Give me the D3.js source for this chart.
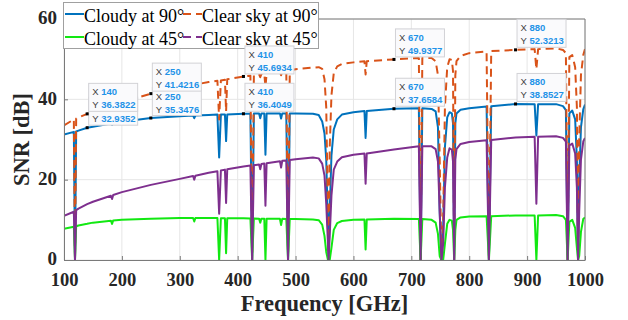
<!DOCTYPE html>
<html>
<head>
<meta charset="utf-8">
<script src="https://cdn.jsdelivr.net/npm/d3@7"></script>
<style>
  html, body { margin: 0; padding: 0; background: #fff; }
  svg { display: block; }
</style>
</head>
<body>
<div id="chart"></div>
<script>
// frequency grid [GHz], shared by all four curves (rows of 8)
const freq = [
  100, 117, 119, 121, 125, 140, 150, 181,
  183, 185, 200, 250, 300, 323, 325, 327,
  350, 365, 368, 371, 378, 380, 382, 410,
  422, 425, 428, 437, 439, 441, 446, 448,
  450, 473, 475, 477, 484, 487, 490, 500,
  530, 540, 546, 550, 553, 556, 557, 559,
  562, 566, 572, 580, 600, 619, 621, 623,
  670, 713, 716, 719, 735, 742, 746, 749,
  752, 755, 758, 762, 766, 770, 772, 774,
  776, 778, 785, 800, 830, 834, 838, 880,
  913, 916, 919, 950, 962, 967, 970, 973,
  978, 983, 986, 988, 990, 993, 997, 1000
];

// SNR [dB]
const cloudy90 = [
  31.25, 31.9, 0, 32.0, 32.2, 32.94, 33.2, 34.0,
  33.6, 34.1, 34.4, 35.35, 35.8, 35.95, 35.3, 35.95,
  36.1, 36.2, 25.5, 36.2, 36.25, 29.6, 36.25, 36.4,
  36.4, 0, 36.45, 36.45, 35.3, 36.45, 36.45, 26.2,
  36.5, 36.5, 35.2, 36.5, 36.5, 0, 36.5, 36.5,
  36.4, 36.1, 34.5, 31.5, 25, 8, 0, 12,
  26, 32.5, 35, 36.2, 36.8, 37.1, 30.4, 37.1,
  37.66, 37.8, 0, 37.8, 37.6, 37.0, 33, 12,
  0, 8, 28, 35.5, 36.8, 36.5, 34, 0,
  34, 36.5, 37.4, 37.8, 38.2, 0, 38.3, 38.85,
  38.8, 31, 38.8, 38.8, 38.3, 37.3, 0, 36.5,
  37.2, 35, 25, 0, 20, 33, 37.5, 38.7
];

const clearSky90 = [
  33.5, 35.0, 0, 35.2, 35.5, 36.38, 37.0, 38.5,
  38.2, 38.7, 39.3, 41.42, 43.0, 43.6, 43.0, 43.7,
  44.3, 44.6, 35, 44.7, 44.9, 37, 45.0, 45.69,
  45.9, 0, 46.0, 46.2, 45.5, 46.3, 46.4, 43,
  46.5, 46.9, 46.0, 47.0, 47.1, 0, 47.2, 47.5,
  47.9, 48.0, 47.6, 45, 38, 10, 0, 28,
  41, 46.5, 48.2, 48.8, 49.2, 49.5, 46.2, 49.5,
  49.94, 50.3, 0, 50.3, 50.3, 49.5, 46, 25,
  0, 10, 38, 48, 50, 49.8, 47, 0,
  46, 49.5, 50.8, 51.5, 51.9, 0, 52.0, 52.32,
  52.5, 47.5, 52.5, 52.7, 52.3, 51.5, 0, 50.5,
  51, 48, 38, 0, 30, 46, 51, 52.5
];

const cloudy45 = [
  7.75, 8.3, 0, 8.4, 8.6, 9.0, 9.3, 9.8,
  9.0, 9.85, 10.0, 10.3, 10.45, 10.45, 9.6, 10.45,
  10.45, 10.45, 0, 10.4, 10.4, 1.7, 10.4, 10.4,
  10.35, 0, 10.35, 10.3, 9.3, 10.3, 10.3, 0,
  10.3, 10.25, 8.7, 10.25, 10.2, 0, 10.2, 10.2,
  10.1, 9.9, 8.8, 6, 2, 0, 0, 0,
  3, 7.5, 9.2, 9.7, 10.0, 10.1, 2.6, 10.1,
  10.25, 10.2, 0, 10.2, 10.0, 9.3, 6.5, 1,
  0, 0, 4, 9, 10.0, 9.8, 7.5, 0,
  7.5, 10.0, 10.6, 10.8, 10.9, 0, 10.9, 11.1,
  11.1, 0, 11.1, 11.2, 10.9, 10.0, 0, 9.5,
  10.0, 8, 3, 0, 1, 7, 10.2, 10.6
];

const clearSky45 = [
  11.0, 12.0, 0, 12.4, 12.8, 13.9, 14.5, 16.0,
  15.2, 16.2, 16.9, 18.7, 20.2, 20.9, 20.0, 21.0,
  21.7, 22.1, 11.5, 22.3, 22.5, 14.2, 22.6, 23.3,
  23.5, 0, 23.6, 23.8, 22.6, 23.9, 24.0, 13.5,
  24.1, 24.6, 23.0, 24.7, 24.8, 0, 24.9, 25.1,
  25.5, 25.3, 24.0, 21, 14, 4, 0, 6,
  16, 22.5, 24.5, 25.6, 26.2, 26.5, 19.0, 26.5,
  27.5, 28.3, 0, 28.3, 28.3, 27.6, 24.5, 12,
  0, 4, 18, 25.5, 27.8, 27.5, 24.5, 0,
  25, 27.6, 28.9, 29.4, 29.8, 0, 29.9, 30.5,
  30.7, 14, 30.7, 30.8, 30.4, 29.5, 0, 28.5,
  29.0, 26.5, 18, 0, 12, 25, 29.5, 30.4
];

const xTicks = [100, 200, 300, 400, 500, 600, 700, 800, 900, 1000];
const yTicks = [0, 20, 40, 60];

// data tips [x, y]
const tipsCloudy90 = [[140, 32.9352], [250, 35.3476], [410, 36.4049], [670, 37.6584], [880, 38.8527]];
const tipsClear90 = [[140, 36.3822], [250, 41.4216], [410, 45.6934], [670, 49.9377], [880, 52.3213]];

const series = [
  { name: 'Cloudy at 90\u00b0', values: cloudy90, color: '#0072BD', dash: null },
  { name: 'Clear sky at 90\u00b0', values: clearSky90, color: '#D95319', dash: '8,5' },
  { name: 'Cloudy at 45\u00b0', values: cloudy45, color: '#12e812', dash: null },
  { name: 'Clear sky at 45\u00b0', values: clearSky45, color: '#7E2F8E', dash: null, legendDash: '8,5' }
];

const W = 628, H = 320;
const margin = { top: 19, right: 43, bottom: 60, left: 64 };
const serif = '"Liberation Serif", "Times New Roman", serif';
const sans = '"Liberation Sans", Arial, Helvetica, sans-serif';
const axisColor = '#7a7a7a';

const svg = d3.select('#chart').append('svg')
  .attr('width', W).attr('height', H)
  .style('background', '#fff');

const x = d3.scaleLinear().domain([100, 1000]).range([margin.left, W - margin.right]);
const y = d3.scaleLinear().domain([0, 60]).range([H - margin.bottom, margin.top]);

// grid
svg.append('g').selectAll('line.vgrid')
  .data(xTicks).enter().append('line')
    .attr('x1', d => x(d)).attr('x2', d => x(d))
    .attr('y1', y(0)).attr('y2', y(60))
    .attr('stroke', '#e6e6e6').attr('stroke-width', 1);
svg.append('g').selectAll('line.hgrid')
  .data(yTicks).enter().append('line')
    .attr('x1', x(100)).attr('x2', x(1000))
    .attr('y1', d => y(d)).attr('y2', d => y(d))
    .attr('stroke', '#e6e6e6').attr('stroke-width', 1);

// curves
svg.append('clipPath').attr('id', 'plotclip')
  .append('rect')
    .attr('x', x(100)).attr('y', y(60))
    .attr('width', x(1000) - x(100)).attr('height', y(0) - y(60) + 1);

const line = d3.line()
  .x(d => x(d[0]))
  .y(d => y(d[1]));

const curves = svg.append('g').attr('clip-path', 'url(#plotclip)');
for (const s of series) {
  curves.append('path')
    .datum(freq.map((f, i) => [f, s.values[i]]))
    .attr('d', line)
    .attr('fill', 'none')
    .attr('stroke', s.color)
    .attr('stroke-width', 2)
    .attr('stroke-linejoin', 'round')
    .attr('stroke-dasharray', s.dash);
}

// axes (MATLAB style: box, ticks pointing in)
const xAxis = svg.append('g')
  .attr('transform', `translate(0,${y(0)})`)
  .call(d3.axisBottom(x).tickValues(xTicks).tickFormat(d3.format('d')).tickSize(-4).tickSizeOuter(0));
const yAxis = svg.append('g')
  .attr('transform', `translate(${x(100)},0)`)
  .call(d3.axisLeft(y).tickValues(yTicks).tickSize(-4).tickPadding(7).tickSizeOuter(0));

for (const g of [xAxis, yAxis]) {
  g.select('.domain').attr('stroke', axisColor);
  g.selectAll('.tick line').attr('stroke', axisColor);
  g.selectAll('.tick text')
    .attr('fill', '#262626')
    .style('font-family', serif)
    .style('font-weight', 'bold')
    .style('font-size', '19px');
}
xAxis.selectAll('.tick text').attr('y', 26).attr('dy', 0).style('font-size', '18.5px');
yAxis.selectAll('.tick text').attr('dy', '0.26em');

// top and right edges of the box
svg.append('line')
  .attr('x1', x(100)).attr('x2', x(1000)).attr('y1', y(60)).attr('y2', y(60))
  .attr('stroke', axisColor);
svg.append('line')
  .attr('x1', x(1000)).attr('x2', x(1000)).attr('y1', y(0)).attr('y2', y(60))
  .attr('stroke', axisColor);

// axis labels
svg.append('text')
  .attr('x', (x(100) + x(1000)) / 2).attr('y', 311)
  .attr('text-anchor', 'middle')
  .style('font-family', serif).style('font-weight', 'bold').style('font-size', '22.5px')
  .attr('fill', '#262626')
  .text('Frequency [GHz]');
svg.append('text')
  .attr('transform', `translate(29,${(y(0) + y(60)) / 2}) rotate(-90)`)
  .attr('text-anchor', 'middle')
  .style('font-family', serif).style('font-weight', 'bold').style('font-size', '22.5px')
  .attr('fill', '#262626')
  .text('SNR [dB]');

// legend, two columns
const legend = svg.append('g');
legend.append('rect')
  .attr('x', 63.5).attr('y', 2.5).attr('width', 255).attr('height', 46)
  .attr('fill', '#fff').attr('stroke', '#a0a0a0').attr('stroke-width', 1);
const legendPos = [[65, 14], [183, 14], [65, 37], [183, 37]];
series.forEach((s, i) => {
  const [lx, ly] = legendPos[i];
  legend.append('line')
    .attr('x1', lx).attr('x2', lx + 19).attr('y1', ly).attr('y2', ly)
    .attr('stroke', s.color).attr('stroke-width', 2)
    .attr('stroke-dasharray', s.dash || s.legendDash || null);
  legend.append('text')
    .attr('x', lx + 19).attr('y', ly + 8)
    .style('font-family', serif).style('font-size', '18px')
    .attr('fill', '#000')
    .text(s.name);
});

// data tips: box sits just above/right of the point
const tipW = 49, tipH = 28;
const tipBox = ([tx, ty]) => ({ x: x(tx) + 1, y: y(ty) - 3 - tipH });

function drawTips(tips, coveredBy) {
  const g = svg.append('g');
  for (const tip of tips) {
    const [tx, ty] = tip;
    const b = tipBox(tip);
    g.append('rect')
      .attr('x', b.x + 0.5).attr('y', b.y + 0.5).attr('width', tipW).attr('height', tipH)
      .attr('fill', '#fafafc').attr('stroke', '#d2d2d6').attr('stroke-width', 1);
    [['X', tx], ['Y', ty]].forEach(([k, v], j) => {
      const base = b.y + 12.5 + j * 13;
      // rows hidden below a tip drawn later are left out
      const hidden = coveredBy.some(c => {
        const cb = tipBox(c);
        return Math.abs(cb.x - b.x) < tipW && base > cb.y && base - 8 < cb.y + tipH;
      });
      if (hidden) return;
      const t = g.append('text')
        .attr('x', b.x + 4).attr('y', base)
        .style('font-family', sans).style('font-size', '9.5px');
      t.append('tspan').attr('fill', '#404040').text(k);
      t.append('tspan').attr('x', b.x + 13).attr('fill', '#1f93e8')
        .style('font-weight', 'bold').text(v);
    });
    g.append('rect')
      .attr('x', x(tx) - 1.5).attr('y', y(ty) - 1.5).attr('width', 3).attr('height', 3)
      .attr('fill', '#000');
  }
}
drawTips(tipsCloudy90, tipsClear90);
drawTips(tipsClear90, []);
</script>
</body>
</html>
